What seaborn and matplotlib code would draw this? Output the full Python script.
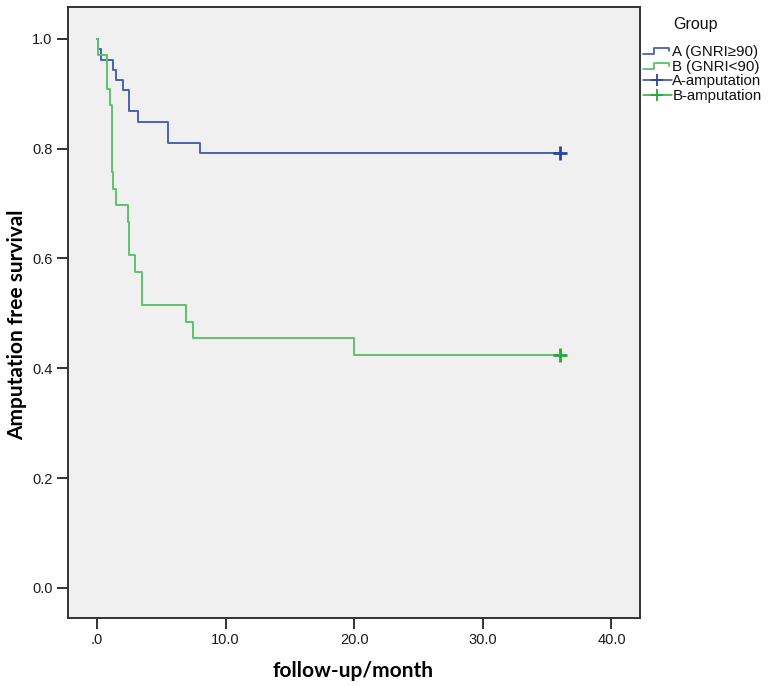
import numpy as np
import pandas as pd
import matplotlib
matplotlib.use("Agg")
import matplotlib.pyplot as plt
import seaborn as sns
from matplotlib.lines import Line2D
from matplotlib.legend_handler import HandlerBase

# Kaplan-Meier steps (time in months, survival)
a_time = [0.0, 0.1, 0.3, 1.22, 1.48, 2.0, 2.5, 3.2, 5.5, 8.0, 36.0]
a_surv = [1.0, 0.981, 0.962, 0.943, 0.925, 0.906, 0.868, 0.849, 0.811, 0.792, 0.792]
b_time = [0.0, 0.1, 0.75, 1.0, 1.2, 1.25, 1.48, 2.43, 2.5, 2.95, 3.47, 6.96, 7.48, 19.96, 36.0]
b_surv = [1.0, 0.970, 0.909, 0.879, 0.758, 0.727, 0.697, 0.667, 0.606, 0.576, 0.515, 0.485, 0.455, 0.424, 0.424]
censor_time = [36.0, 36.0]
censor_surv = [0.792, 0.424]
groups = ["A (GNRI\u226590)", "B (GNRI<90)"]
censor_labels = ["A-amputation", "B-amputation"]

xticks = [0, 10, 20, 30, 40]
xtick_labels = [".0", "10.0", "20.0", "30.0", "40.0"]
yticks = [0.0, 0.2, 0.4, 0.6, 0.8, 1.0]
ytick_labels = ["0.0", "0.2", "0.4", "0.6", "0.8", "1.0"]

line_colors = ["#4a61b3", "#5cc26a"]
mark_colors = ["#2b449f", "#24a836"]

sns.set_style("white", {"axes.facecolor": "#f0f0f0"})
plt.rcParams["font.family"] = ["Liberation Sans", "DejaVu Sans"]
plt.rcParams["text.color"] = "#111111"

fig = plt.figure(figsize=(7.68, 6.87), dpi=100)
ax = fig.add_axes([0.0885, 0.1004, 0.7445, 0.8894])

df = pd.concat([
    pd.DataFrame({"time": a_time, "surv": a_surv, "group": groups[0]}),
    pd.DataFrame({"time": b_time, "surv": b_surv, "group": groups[1]}),
])
sns.lineplot(data=df, x="time", y="surv", hue="group", palette=line_colors,
             estimator=None, sort=False, drawstyle="steps-post",
             linewidth=1.4, legend=False, ax=ax)

cdf = pd.DataFrame({"time": censor_time, "surv": censor_surv, "group": censor_labels})
sns.scatterplot(data=cdf, x="time", y="surv", hue="group", palette=mark_colors,
                marker="+", s=90, linewidth=2, legend=False, ax=ax, zorder=5)

ax.set_xlim(-2.25, 42.2)
ax.set_ylim(-0.055, 1.058)
ax.set_xticks(xticks)
ax.set_xticklabels(xtick_labels)
ax.set_yticks(yticks)
ax.set_yticklabels(ytick_labels)
ax.tick_params(axis="both", direction="out", length=8, width=1.4,
               bottom=True, left=True, color="#333333", labelsize=10.5,
               pad=3, labelcolor="#1a1a1a")
for s in ax.spines.values():
    s.set_color("#333333")
    s.set_linewidth(1.4)

ax.set_xlabel("follow-up/month", fontsize=15, fontweight="bold",
              family=["Lato", "DejaVu Sans"], color="#000000")
ax.set_ylabel("Amputation free survival", fontsize=15, fontweight="bold",
              family=["Lato", "DejaVu Sans"], color="#000000")
ax.xaxis.set_label_coords(0.498, -0.070)
ax.yaxis.set_label_coords(-0.0717, 0.48)


class StepHandler(HandlerBase):
    def create_artists(self, legend, orig, xd, yd, width, height, fontsize, trans):
        xs = [xd, xd + width * 0.4, xd + width * 0.4, xd + width * 0.92, xd + width * 0.92]
        ys = [yd + height * 0.15, yd + height * 0.15, yd + height * 0.75,
              yd + height * 0.75, yd + height * 0.45]
        ln = Line2D(xs, ys, color=orig.get_color(), linewidth=1.3, transform=trans)
        return [ln]


handles = [
    Line2D([], [], color=line_colors[0]),
    Line2D([], [], color=line_colors[1]),
    Line2D([0], [0], color=mark_colors[0], marker="+", markersize=9, mew=1.3, linewidth=1.1),
    Line2D([0], [0], color=mark_colors[1], marker="+", markersize=9, mew=1.3, linewidth=1.1),
]
labels = groups + censor_labels
leg = ax.legend(handles, labels, loc="upper left",
                bbox_to_anchor=(643 / 768, 1 - 45 / 687), bbox_transform=fig.transFigure,
                frameon=False, fontsize=10.8, handlelength=1.9, handletextpad=0.05,
                labelspacing=0.05, borderaxespad=0.0, borderpad=0.0,
                handler_map={handles[0]: StepHandler(), handles[1]: StepHandler()})
fig.text(696 / 768, 1 - 25 / 687, "Group", ha="center", va="center", fontsize=11.5)

fig.savefig("out.png", dpi=100)
